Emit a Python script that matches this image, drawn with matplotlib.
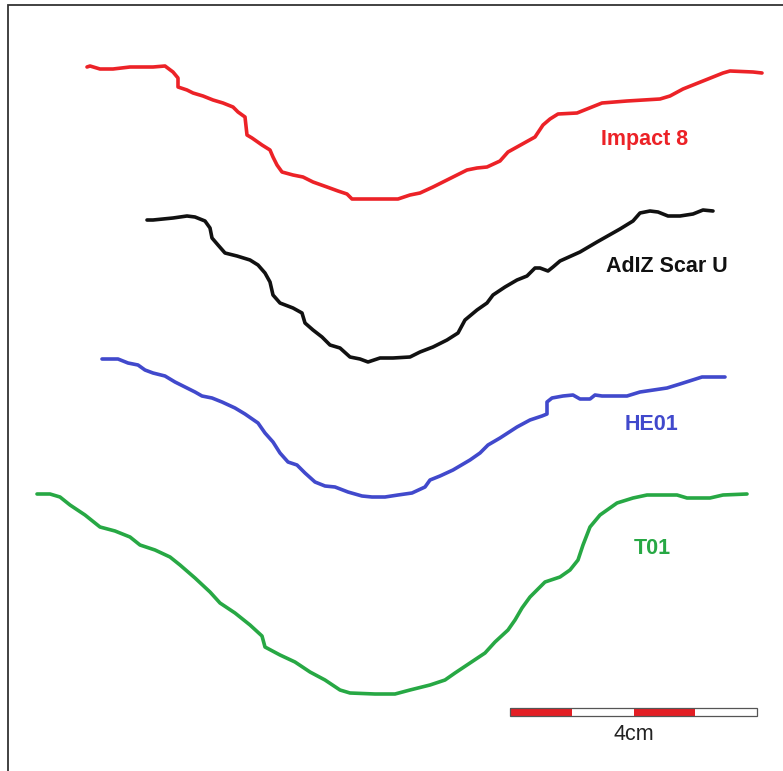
import matplotlib
matplotlib.use("Agg")
import matplotlib.pyplot as plt
from matplotlib.patches import Rectangle

plt.rcParams['font.family'] = ['Liberation Sans', 'DejaVu Sans']

# profile traces (x, depth) in drawing units, one pair of lists per scar
impact8_x = [87, 90, 100, 113, 130, 153, 165, 173, 178, 178, 187, 193, 203, 213, 223, 233, 238, 245,
             247, 252, 262, 270, 273, 277, 282, 293, 303, 313, 327, 338, 347, 352, 370, 398, 410, 420,
             433, 447, 467, 477, 487, 500, 508, 517, 535, 543, 550, 558, 577, 602, 627, 660, 670, 683,
             703, 723, 730, 753, 762]
impact8_y = [67, 66, 69, 69, 67, 67, 66, 72, 78, 87, 90, 93, 96, 100, 103, 107, 112, 117,
             135, 138, 145, 150, 157, 165, 172, 175, 177, 182, 187, 191, 194, 199, 199, 199, 195, 193,
             187, 180, 170, 168, 167, 161, 152, 147, 137, 125, 119, 114, 113, 103, 101, 99, 96, 89,
             81, 73, 71, 72, 73]

adiz_x = [147, 153, 163, 173, 187, 195, 205, 210, 212, 218, 225, 237, 250, 258, 265, 270, 273, 280,
          293, 302, 305, 313, 322, 330, 340, 350, 360, 368, 380, 393, 410, 420, 433, 447, 458,
          465, 477, 487, 493, 505, 517, 527, 535, 540, 548, 553, 560, 580, 597, 620, 633, 640,
          650, 658, 668, 680, 693, 703, 713]
adiz_y = [220, 220, 219, 218, 216, 217, 221, 228, 238, 245, 253, 256, 260, 265, 273, 282, 295, 303,
          308, 313, 323, 330, 337, 345, 348, 357, 359, 362, 358, 358, 357, 352, 347, 340, 333,
          320, 310, 303, 295, 287, 280, 276, 268, 268, 271, 267, 261, 252, 242, 229, 221, 213,
          211, 212, 216, 216, 214, 210, 211]

he01_x = [102, 118, 128, 138, 145, 153, 165, 175, 185, 195, 202, 212, 222, 235, 245, 258, 265, 273,
          280, 288, 297, 305, 315, 325, 335, 348, 362, 372, 385, 398, 412, 425, 430, 440, 453,
          470, 480, 488, 500, 517, 530, 542, 547, 547, 552, 563, 573, 580, 590, 595, 602, 627,
          640, 667, 680, 702, 725]
he01_y = [359, 359, 363, 365, 370, 373, 376, 382, 387, 392, 396, 398, 402, 408, 414, 423, 433, 442,
          453, 462, 465, 473, 482, 486, 487, 492, 496, 497, 497, 495, 493, 487, 480, 476, 470,
          460, 453, 445, 438, 427, 420, 416, 414, 402, 398, 396, 395, 399, 399, 395, 396, 396,
          392, 388, 384, 377, 377]

t01_x = [37, 50, 60, 70, 85, 100, 115, 130, 140, 155, 170, 180, 195, 210, 220, 235, 250, 262, 265,
         280, 295, 310, 325, 340, 350, 375, 395, 410, 430, 445, 455, 470, 485, 495, 508, 515, 522,
         530, 545, 560, 570, 578, 583, 590, 600, 617, 633, 647, 677, 687, 710, 723, 747]
t01_y = [494, 494, 497, 505, 515, 527, 531, 537, 545, 550, 557, 565, 578, 592, 603, 613, 625, 636, 647,
         655, 662, 672, 680, 690, 693, 694, 694, 690, 685, 680, 673, 663, 653, 642, 630, 620, 608,
         597, 582, 577, 570, 560, 545, 527, 515, 503, 498, 495, 495, 498, 498, 495, 494]

profiles = [
    ("Impact 8", impact8_x, impact8_y, "#ec2227", (645, 139)),
    ("AdIZ Scar U", adiz_x, adiz_y, "#111111", (667, 267)),
    ("HE01", he01_x, he01_y, "#4149cc", (652, 424)),
    ("T01", t01_x, t01_y, "#27a844", (652, 549)),
]

# scale bar: alternating 1 cm blocks
scale_colors = ["#e31e24", "white", "#e31e24", "white"]
scale_label = "4cm"

fig = plt.figure(figsize=(7.83, 7.71), dpi=100)
ax = fig.add_axes([0, 0, 1, 1])
ax.set_xlim(0, 783)
ax.set_ylim(771, 0)
ax.axis('off')

for name, xs, ys, col, (lx, ly) in profiles:
    ax.plot(xs, ys, color=col, lw=2.6, solid_joinstyle='round', solid_capstyle='round')
    ax.text(lx, ly, name, color=col, fontsize=15.5, fontweight='bold',
            ha='center', va='center')

bar_x0, bar_y, seg_w, bar_h = 510, 708, 61.75, 8
for i, c in enumerate(scale_colors):
    ax.add_patch(Rectangle((bar_x0 + i * seg_w, bar_y), seg_w, bar_h,
                           facecolor=c, edgecolor='none'))
ax.add_patch(Rectangle((bar_x0, bar_y), seg_w * len(scale_colors), bar_h,
                       facecolor='none', edgecolor='#555555', lw=0.9))
ax.text(bar_x0 + seg_w * len(scale_colors) / 2, 735, scale_label, fontsize=15.5,
        color='#222222', ha='center', va='center')

# frame on the left and top
ax.plot([8, 8, 783], [771, 5, 5], color='#333333', lw=1.3, solid_joinstyle='miter')

fig.savefig("out.png", dpi=100)
